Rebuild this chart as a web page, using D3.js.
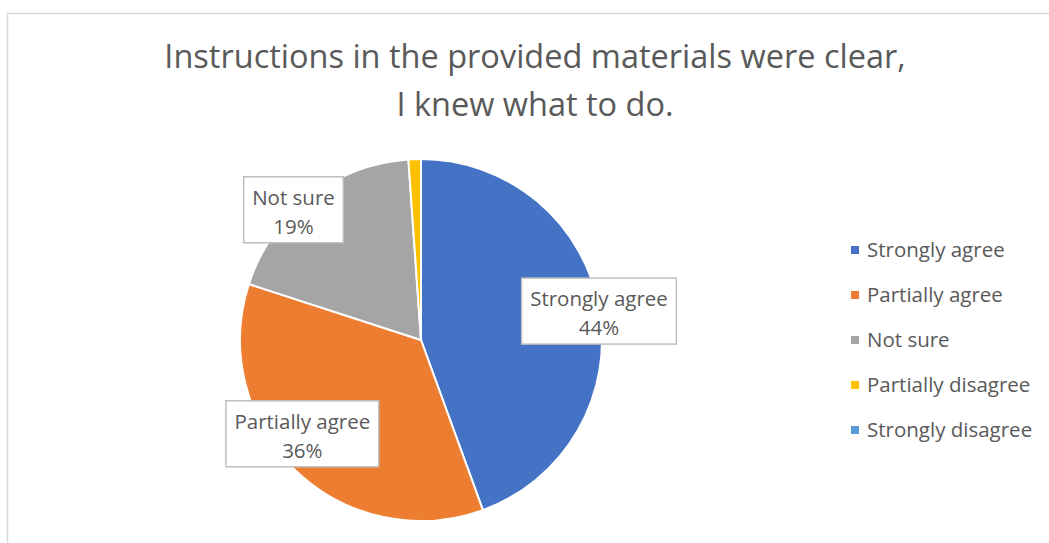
<!DOCTYPE html>
<html>
<head>
<meta charset="utf-8">
<script src="https://cdn.jsdelivr.net/npm/d3@7/dist/d3.min.js"></script>
<style>
  html, body { margin: 0; padding: 0; background: #fff; }
  svg { display: block; }
  text { font-family: "Open Sans", "Noto Sans", sans-serif; fill: #595959; }
</style>
</head>
<body>
<svg id="chart" width="1049" height="543"></svg>
<script>
// Survey responses (counts per answer)
const categories = ["Strongly agree", "Partially agree", "Not sure", "Partially disagree", "Strongly disagree"];
const responses = [40, 32, 17, 1, 0];
const sliceColors = ["#4472C4", "#ED7D31", "#A5A5A5", "#FFC000", "#5B9BD5"];
const titleLines = ["Instructions in the provided materials were clear,", "I knew what to do."];

// Layout
const W = 1049, H = 543;
const cx = 421, cy = 340, radius = 181;
const labelNudge = { "Strongly agree": [14, 0], "Partially agree": [-3, -26], "Not sure": [-25, 1] };

const svg = d3.select("#chart");

// Chart area frame
svg.append("rect")
  .attr("x", 7.5).attr("y", 13.5)
  .attr("width", W).attr("height", H)
  .attr("fill", "#fff")
  .attr("stroke", "#d9d9d9").attr("stroke-width", 1.5);

// Title
svg.append("g").selectAll("text")
  .data(titleLines).join("text")
  .attr("x", 535)
  .attr("y", (d, i) => 68 + i * 48)
  .attr("text-anchor", "middle")
  .attr("font-size", 32.5)
  .text(d => d);

const data = categories.map((c, i) => ({ name: c, value: responses[i], color: sliceColors[i] }));
const total = d3.sum(responses);

const pie = d3.pie().value(d => d.value).sort(null);
const arcs = pie(data);
const arc = d3.arc().innerRadius(0).outerRadius(radius);
const labelArc = d3.arc().innerRadius(radius * 0.92).outerRadius(radius * 0.92);

const g = svg.append("g").attr("transform", `translate(${cx},${cy})`);

g.selectAll("path")
  .data(arcs).join("path")
  .attr("d", arc)
  .attr("fill", d => d.data.color)
  .attr("stroke", "#fff")
  .attr("stroke-width", 2)
  .attr("stroke-linejoin", "round");

// Data labels: category name and percentage in a bordered box
const labelled = arcs.filter(d => d.data.value / total >= 0.05);
const lg = g.selectAll("g.label")
  .data(labelled).join("g")
  .attr("class", "label")
  .attr("transform", d => {
    const [x, y] = labelArc.centroid(d);
    const n = labelNudge[d.data.name] || [0, 0];
    return `translate(${x + n[0]},${y + n[1]})`;
  });

lg.append("rect")
  .attr("fill", "#fff")
  .attr("stroke", "#bfbfbf")
  .attr("stroke-width", 1.5);

lg.append("text")
  .attr("text-anchor", "middle")
  .attr("font-size", 20.5)
  .attr("y", -5)
  .text(d => d.data.name);
lg.append("text")
  .attr("text-anchor", "middle")
  .attr("font-size", 20.5)
  .attr("y", 24)
  .text(d => Math.round(d.data.value / total * 100) + "%");

lg.each(function() {
  const texts = d3.select(this).selectAll("text").nodes();
  const w = d3.max(texts, t => t.getComputedTextLength()) + 17;
  d3.select(this).select("rect")
    .attr("x", -w / 2).attr("y", -33)
    .attr("width", w).attr("height", 66);
});

// Legend
const legend = svg.append("g").attr("transform", "translate(851,250)");
const item = legend.selectAll("g")
  .data(data).join("g")
  .attr("transform", (d, i) => `translate(0,${i * 45})`);
item.append("rect")
  .attr("x", 0).attr("y", -4)
  .attr("width", 8).attr("height", 8)
  .attr("fill", d => d.color);
item.append("text")
  .attr("x", 16).attr("y", 0)
  .attr("dy", "0.35em")
  .attr("font-size", 20.5)
  .text(d => d.name);
</script>
</body>
</html>
